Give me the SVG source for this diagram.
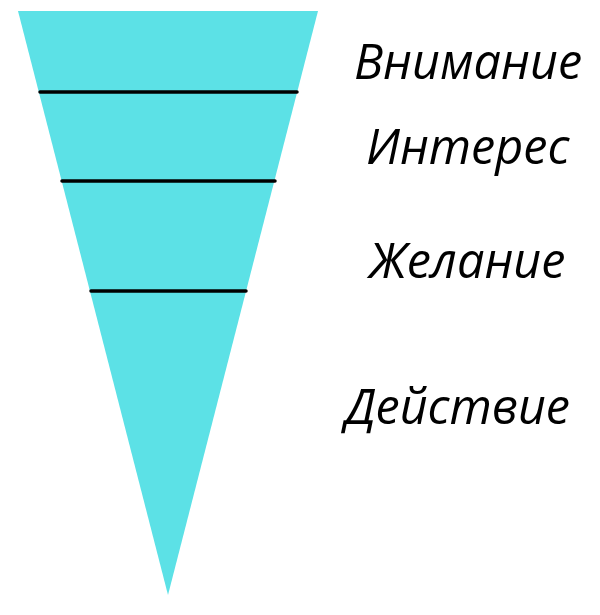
<svg xmlns="http://www.w3.org/2000/svg" width="600" height="615" viewBox="0 0 600 615">
<style>
.lbl{font-family:"Open Sans","Liberation Sans",sans-serif;font-style:italic;font-size:48.5px;fill:#000}
.sep{stroke:#000;stroke-width:3.5;stroke-linecap:round}
</style>
<rect width="600" height="615" fill="#fff"/>
<g id="funnel">
<polygon points="18,11 318,11 168,595" fill="#5CE1E6"/>
</g>
<g id="connectors">
<line class="sep" x1="40" y1="92" x2="297" y2="92"/>
<line class="sep" x1="62" y1="181" x2="275" y2="181"/>
<line class="sep" x1="91" y1="291" x2="246" y2="291"/>
</g>
<g id="node-attention"><text class="lbl" x="354" y="79">Внимание</text></g>
<g id="node-interest"><text class="lbl" x="366" y="164">Интерес</text></g>
<g id="node-desire"><text class="lbl" x="369" y="278">Желание</text></g>
<g id="node-action"><text class="lbl" x="345" y="424">Действие</text></g>
</svg>
